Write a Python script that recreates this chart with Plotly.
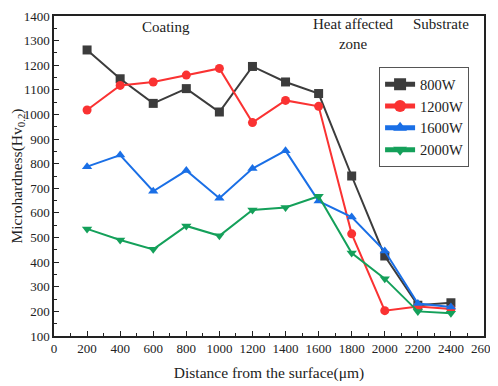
import plotly.graph_objects as go

distance = [200, 400, 600, 800, 1000, 1200, 1400, 1600, 1800, 2000, 2200, 2400]
hv_800 = [1262, 1145, 1045, 1105, 1010, 1195, 1132, 1085, 750, 425, 225, 235]
hv_1200 = [1018, 1118, 1132, 1160, 1187, 967, 1057, 1033, 515, 203, 220, 210]
hv_1600 = [788, 835, 688, 772, 660, 780, 853, 648, 583, 445, 232, 218]
hv_2000 = [535, 490, 452, 547, 507, 612, 622, 668, 437, 333, 200, 192]

series = [
    ("800W", hv_800, "#3c3c3c", "square"),
    ("1200W", hv_1200, "#fa3232", "circle"),
    ("1600W", hv_1600, "#1a6fe6", "triangle-up"),
    ("2000W", hv_2000, "#14a05a", "triangle-down"),
]

x_ticks = list(range(0, 2601, 200))
y_ticks = list(range(100, 1401, 100))

fig = go.Figure()
for name, vals, color, sym in series:
    fig.add_trace(go.Scatter(
        x=distance, y=vals, name=name, mode="lines+markers",
        line=dict(color=color, width=2),
        marker=dict(symbol=sym, size=9, color=color),
    ))

font = "Liberation Serif, Times New Roman, serif"
fig.update_layout(
    width=490, height=378,
    margin=dict(l=46, r=14, t=8, b=50),
    plot_bgcolor="white", paper_bgcolor="white",
    font=dict(family=font, size=13, color="#222"),
    showlegend=True,
    legend=dict(
        x=0.756, y=0.84, xanchor="left", yanchor="top",
        bordercolor="#555", borderwidth=1, bgcolor="white",
        font=dict(family=font, size=14.5, color="#222"),
        tracegroupgap=0, itemsizing="constant",
    ),
    annotations=[
        dict(text="Coating", x=680, y=1355, xref="x", yref="y", showarrow=False,
             font=dict(family=font, size=15, color="#222")),
        dict(text="Heat affected<br>zone", x=1810, y=1327, xref="x", yref="y", showarrow=False,
             font=dict(family=font, size=15, color="#222")),
        dict(text="Substrate", x=2340, y=1367, xref="x", yref="y", showarrow=False,
             font=dict(family=font, size=15, color="#222")),
    ],
)
fig.update_xaxes(
    range=[0, 2600], tickvals=x_ticks, ticks="inside", ticklen=5,
    showgrid=False, zeroline=False, showline=True, linecolor="#222", linewidth=1.5,
    mirror=True, tickcolor="#222", automargin=False,
    minor=dict(ticks="inside", ticklen=3, dtick=100, tickcolor="#222"),
    title=dict(text="Distance from the surface(μm)", font=dict(family=font, size=15.5), standoff=12),
)
fig.update_yaxes(
    range=[100, 1400], tickvals=y_ticks, ticks="inside", ticklen=5,
    showgrid=False, zeroline=False, showline=True, linecolor="#222", linewidth=1.5,
    mirror=True, tickcolor="#222", automargin=False, ticklabeloverflow="allow",
    minor=dict(ticks="inside", ticklen=3, dtick=50, tickcolor="#222"),
    title=dict(text="Microhardness(Hv<sub>0.2</sub>)", font=dict(family=font, size=15.5), standoff=0),
)
fig.write_html("out.html")
